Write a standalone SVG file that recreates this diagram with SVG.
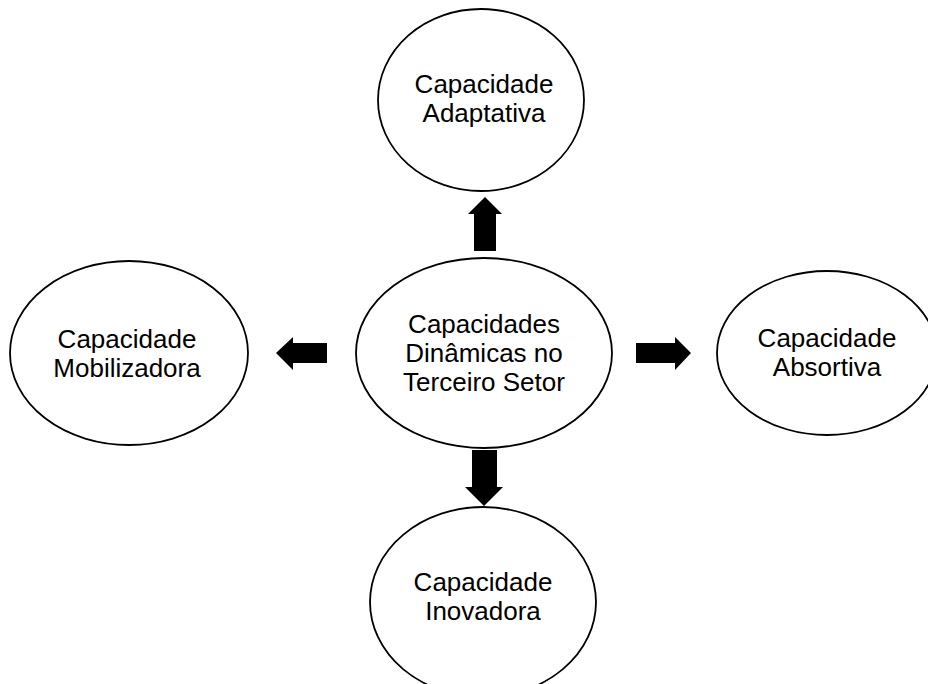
<svg xmlns="http://www.w3.org/2000/svg" width="928" height="684" viewBox="0 0 928 684">
<style>
.node ellipse{fill:#fff;stroke:#000;stroke-width:1.8}
.node text{font-family:"Liberation Sans",Arial,sans-serif;font-size:26px;fill:#000;text-anchor:middle}
.arrow{fill:#000;stroke:none}
</style>
<rect width="928" height="684" fill="#fff"/>
<g id="node-adaptativa" class="node">
<ellipse cx="481" cy="100" rx="103" ry="91"/>
<text x="484" y="93">Capacidade</text>
<text x="484" y="122">Adaptativa</text>
</g>
<g id="node-centro" class="node">
<ellipse cx="484" cy="353" rx="128" ry="95"/>
<text x="484" y="333">Capacidades</text>
<text x="484" y="362">Dinâmicas no</text>
<text x="484" y="391">Terceiro Setor</text>
</g>
<g id="node-mobilizadora" class="node">
<ellipse cx="129" cy="353" rx="119" ry="92"/>
<text x="127" y="348">Capacidade</text>
<text x="127" y="377">Mobilizadora</text>
</g>
<g id="node-absortiva" class="node">
<ellipse cx="827" cy="353" rx="110" ry="82"/>
<text x="827" y="347">Capacidade</text>
<text x="827" y="376">Absortiva</text>
</g>
<g id="node-inovadora" class="node">
<ellipse cx="483" cy="602" rx="113" ry="95"/>
<text x="483" y="591">Capacidade</text>
<text x="483" y="620">Inovadora</text>
</g>
<g id="connectors">
<polygon class="arrow" points="485,197 502,214 496,214 496,251 474,251 474,214 468,214"/>
<polygon class="arrow" points="472,450 497,450 497,487 503,487 484,506 465,487 472,487"/>
<polygon class="arrow" points="276,353 293,337 293,343 327,343 327,363 293,363 293,370"/>
<polygon class="arrow" points="636,343 675,343 675,337 691,353 675,370 675,363 636,363"/>
</g>
</svg>
